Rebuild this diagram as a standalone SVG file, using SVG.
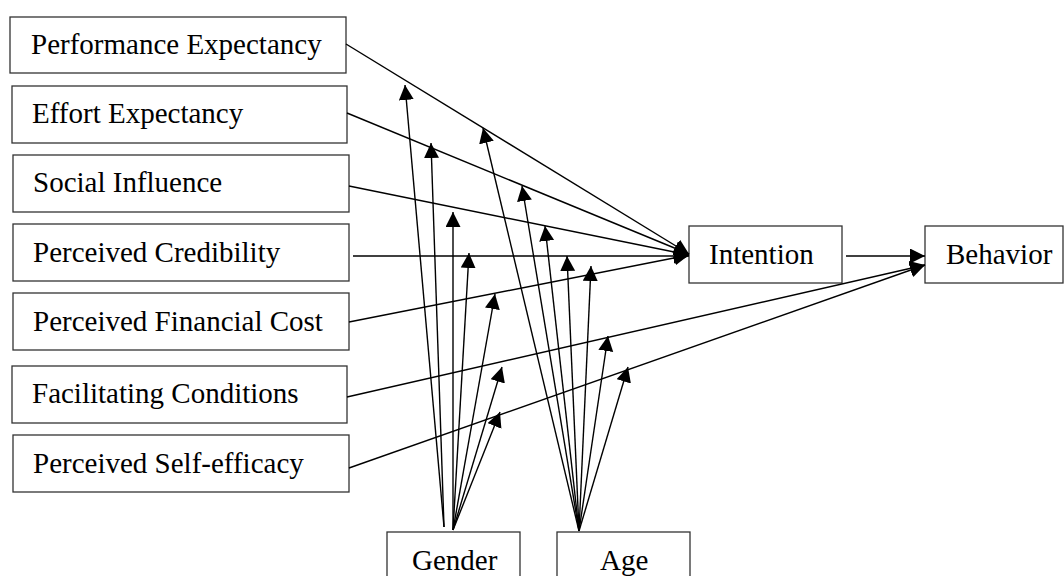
<svg xmlns="http://www.w3.org/2000/svg" width="1064" height="576" viewBox="0 0 1064 576">
<style>
.box{fill:#fff;stroke:#333;stroke-width:1.3}
.lbl{font-family:"Liberation Serif","Times New Roman",serif;font-size:29px;fill:#000}
.cn{stroke:#000;stroke-width:1.4;fill:none}
</style>
<defs>
<marker id="ah" markerWidth="16" markerHeight="16" refX="15" refY="7.5" orient="auto" markerUnits="userSpaceOnUse">
<path d="M0,0 L15,7.5 L0,15 z" fill="#000"/>
</marker>
</defs>
<rect width="1064" height="576" fill="#fff"/>
<g id="n-perf"><rect class="box" x="10" y="17" width="336" height="56"/><text class="lbl" x="31" y="54">Performance Expectancy</text></g>
<g id="n-effort"><rect class="box" x="12" y="86" width="335" height="57"/><text class="lbl" x="32" y="123">Effort Expectancy</text></g>
<g id="n-social"><rect class="box" x="13" y="155" width="336" height="57"/><text class="lbl" x="33" y="192">Social Influence</text></g>
<g id="n-cred"><rect class="box" x="13" y="224" width="336" height="57"/><text class="lbl" x="33" y="262">Perceived Credibility</text></g>
<g id="n-fin"><rect class="box" x="13" y="293" width="336" height="57"/><text class="lbl" x="33" y="331">Perceived Financial Cost</text></g>
<g id="n-facil"><rect class="box" x="12" y="366" width="335" height="57"/><text class="lbl" x="32" y="403">Facilitating Conditions</text></g>
<g id="n-self"><rect class="box" x="13" y="435" width="336" height="57"/><text class="lbl" x="33" y="473">Perceived Self-efficacy</text></g>
<g id="n-intention"><rect class="box" x="689" y="226" width="153" height="57"/><text class="lbl" x="709" y="264">Intention</text></g>
<g id="n-behavior"><rect class="box" x="925" y="226" width="138" height="57"/><text class="lbl" x="946" y="264">Behavior</text></g>
<g id="n-gender"><rect class="box" x="387" y="532" width="133" height="60"/><text class="lbl" x="412" y="570">Gender</text></g>
<g id="n-age"><rect class="box" x="557" y="532" width="133" height="60"/><text class="lbl" x="600" y="570">Age</text></g>
<g id="connectors" class="cn" marker-end="url(#ah)">
<line x1="346" y1="44" x2="689" y2="254"/>
<line x1="347" y1="113" x2="689" y2="254"/>
<line x1="349" y1="186" x2="689" y2="255"/>
<line x1="353" y1="256" x2="689" y2="256"/>
<line x1="349" y1="322" x2="689" y2="255"/>
<line x1="347" y1="397" x2="925" y2="265"/>
<line x1="349" y1="468" x2="925" y2="265"/>
<line x1="846" y1="256" x2="925" y2="256"/>
<line x1="444" y1="527" x2="405" y2="85"/>
<line x1="444" y1="527" x2="431" y2="143"/>
<line x1="453" y1="530" x2="453" y2="212"/>
<line x1="453" y1="530" x2="469" y2="253"/>
<line x1="453" y1="530" x2="495" y2="294"/>
<line x1="453" y1="530" x2="502" y2="367"/>
<line x1="453" y1="530" x2="500" y2="412"/>
<line x1="579" y1="531" x2="483" y2="128"/>
<line x1="579" y1="531" x2="522" y2="186"/>
<line x1="579" y1="531" x2="545" y2="226"/>
<line x1="579" y1="531" x2="567" y2="256"/>
<line x1="579" y1="531" x2="591" y2="266"/>
<line x1="579" y1="531" x2="608" y2="336"/>
<line x1="579" y1="531" x2="628" y2="367"/>
</g>
</svg>
